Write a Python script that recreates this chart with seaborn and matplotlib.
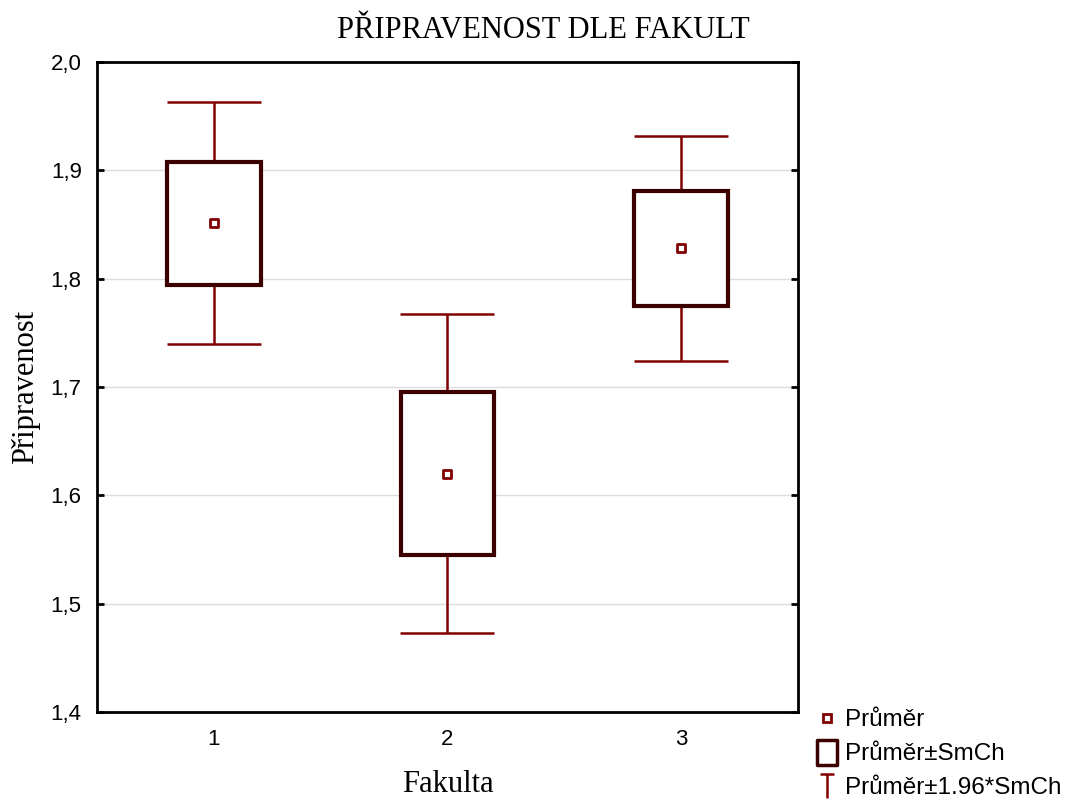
import numpy as np
import pandas as pd
import matplotlib
matplotlib.use("Agg")
import matplotlib.pyplot as plt
import seaborn as sns
from matplotlib.lines import Line2D
from matplotlib.path import Path

# Data
fakulta = [1, 2, 3]
prumer = [1.851, 1.620, 1.828]
smch = [0.057, 0.075, 0.053]
yticks = [1.4, 1.5, 1.6, 1.7, 1.8, 1.9, 2.0]
ytick_labels = ["1,4", "1,5", "1,6", "1,7", "1,8", "1,9", "2,0"]

df = pd.DataFrame({"Fakulta": fakulta, "Prumer": prumer, "SmCh": smch})
df["lo"] = df["Prumer"] - df["SmCh"]
df["ci"] = 1.96 * df["SmCh"]

sns.set_theme(style="white")
plt.rcParams["font.family"] = ["Liberation Sans", "DejaVu Sans"]
serif = ["Liberation Serif", "DejaVu Serif"]

whisk_col = "#800000"
box_col = "#3c0000"

fig = plt.figure(figsize=(10.73, 8.01), dpi=100)
ax = fig.add_axes([97/1073, 89/801, 701/1073, 650/801])

# whiskers (mean +- 1.96*SE)
ax.errorbar(df["Fakulta"], df["Prumer"], yerr=df["ci"], fmt="none",
            ecolor=whisk_col, elinewidth=1.8, capsize=34, capthick=1.8, zorder=2)
# boxes (mean +- SE)
ax.bar(df["Fakulta"], 2 * df["SmCh"], bottom=df["lo"], width=0.4,
       color="white", edgecolor=box_col, linewidth=3, zorder=3)
# means
sns.scatterplot(data=df, x="Fakulta", y="Prumer", marker="s", s=36,
                color="white", edgecolor=whisk_col, linewidth=2, ax=ax, zorder=4)

ax.set_xlim(0.5, 3.5)
ax.set_ylim(1.4, 2.0)
ax.set_xticks(fakulta)
ax.set_xticklabels([str(f) for f in fakulta], fontsize=16)
ax.set_yticks(yticks)
ax.set_yticklabels(ytick_labels, fontsize=16)
ax.yaxis.grid(True, color="#dcdcdc", linewidth=1)
ax.xaxis.grid(False)
ax.set_axisbelow(True)
for s in ax.spines.values():
    s.set_visible(True)
    s.set_color("black")
    s.set_linewidth(2)
ax.tick_params(axis="x", direction="in", length=5, width=2, pad=12, colors="black")
ax.tick_params(axis="y", direction="in", length=5, width=2, pad=11, colors="black",
               left=True, right=True)
for lbl in ax.get_xticklabels() + ax.get_yticklabels():
    lbl.set_color("black")

ax.set_title("PŘIPRAVENOST DLE FAKULT", fontsize=22, family=serif, pad=17,
             x=(543 - 97) / 701, color="black")
ax.set_xlabel("Fakulta", fontsize=22, family=serif, labelpad=15, color="black")
ax.set_ylabel("Připravenost", fontsize=22, family=serif, labelpad=8, color="black")

# legend
tpath = Path([(-0.6, 1), (0.6, 1), (0, 1), (0, -1)],
             [Path.MOVETO, Path.LINETO, Path.MOVETO, Path.LINETO])
rpath = Path([(-0.78, -1), (0.78, -1), (0.78, 1), (-0.78, 1), (-0.78, -1)],
             [Path.MOVETO, Path.LINETO, Path.LINETO, Path.LINETO, Path.CLOSEPOLY])
handles = [
    Line2D([], [], linestyle="none", marker="s", markersize=6, markerfacecolor="white",
           markeredgecolor=whisk_col, markeredgewidth=2),
    Line2D([], [], linestyle="none", marker=rpath, markersize=18, markerfacecolor="white",
           markeredgecolor=box_col, markeredgewidth=2.5),
    Line2D([], [], linestyle="none", marker=tpath, markersize=17,
           markeredgecolor=whisk_col, markeredgewidth=1.8),
]
labels = ["Průměr", "Průměr±SmCh", "Průměr±1.96*SmCh"]
leg = fig.legend(handles, labels, loc="upper left", bbox_to_anchor=(815/1073, 1 - 709/801),
                 frameon=False, fontsize=17.5, handletextpad=0.25, labelspacing=0.5,
                 handlelength=1.0, borderaxespad=0, borderpad=0)
for t in leg.get_texts():
    t.set_color("black")

fig.savefig("out.png", dpi=100)
